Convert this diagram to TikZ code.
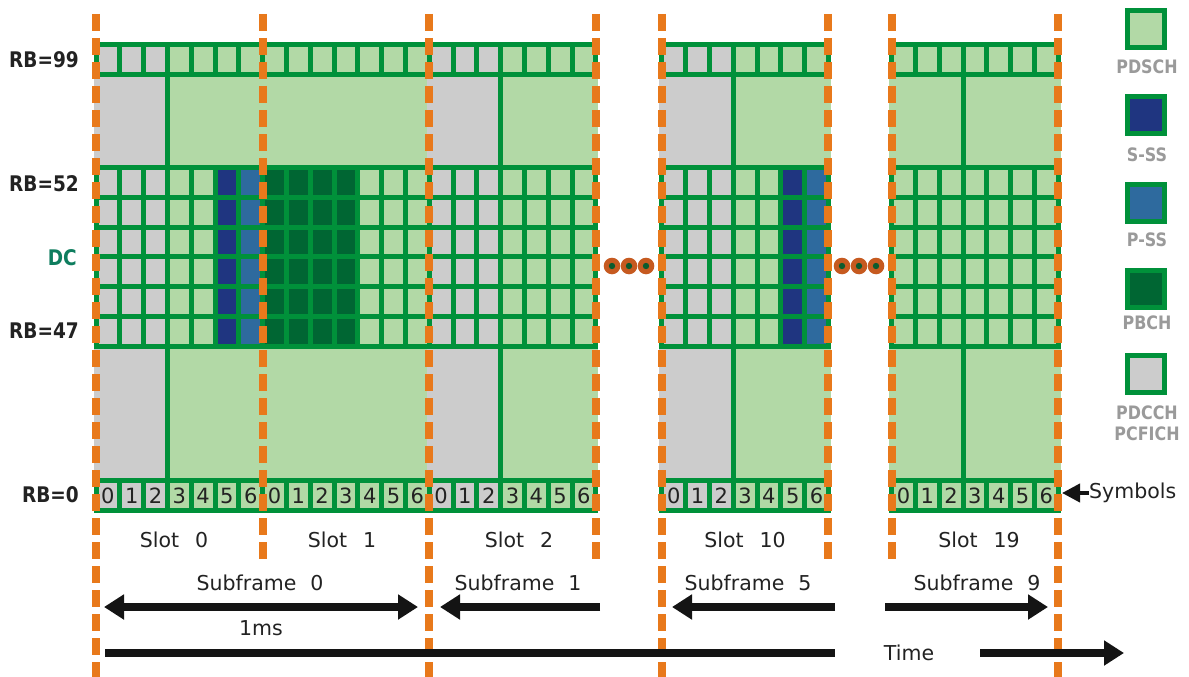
\documentclass[tikz,border=0pt]{standalone}
\usepackage{fontspec}
\setmainfont{DejaVu Sans}
\usetikzlibrary{arrows.meta}
\definecolor{gl}{HTML}{00913A}
\definecolor{lg}{HTML}{B2D9A6}
\definecolor{gy}{HTML}{CCCCCC}
\definecolor{ss}{HTML}{1F3580}
\definecolor{ps}{HTML}{2E6A9E}
\definecolor{pb}{HTML}{006633}
\definecolor{og}{HTML}{E8791B}
\definecolor{txt}{HTML}{222222}
\definecolor{legt}{HTML}{9A9A9A}
\definecolor{dct}{HTML}{0E7D5E}
\definecolor{dotc}{HTML}{C65A20}
\definecolor{dotin}{HTML}{0B5B2E}
\newcommand\cw{23.8}
\newcommand\sw{166.6}
\newcommand\slotblock[7]{%
  \foreach \c [count=\i from 0] in {#2} {\fill[\c] ({#1+\i*\cw-2.5},44) rectangle ({#1+(\i+1)*\cw+2.5},75);}
  \foreach \c [count=\i from 0] in {#3} {\fill[\c] ({#1+\i*\cw-2.5},167) rectangle ({#1+(\i+1)*\cw+2.5},347);}
  \foreach \c [count=\i from 0] in {#4} {\fill[\c] ({#1+\i*\cw-2.5},479) rectangle ({#1+(\i+1)*\cw+2.5},511);}
  \fill[#5] ({#1-2.5},74) rectangle ({#1+3*\cw},168);
  \fill[#6] ({#1+3*\cw},74) rectangle ({#1+\sw+2.5},168);
  \fill[#5] ({#1-2.5},346) rectangle ({#1+3*\cw},480);
  \fill[#6] ({#1+3*\cw},346) rectangle ({#1+\sw+2.5},480);
  \foreach \y in {45,74.5,167.5,197.25,227,256.75,286.5,316.25,346,480,510}
    {\draw[gline] ({#1-2.5},\y) -- ({#1+\sw+2.5},\y);}
  \foreach \k in {0,...,7} {
    \draw[gline] ({#1+\k*\cw},45) -- ({#1+\k*\cw},74.5);
    \draw[gline] ({#1+\k*\cw},167.5) -- ({#1+\k*\cw},346);
    \draw[gline] ({#1+\k*\cw},480) -- ({#1+\k*\cw},510);}
  \ifnum#7=1
    \draw[gline] ({#1+3*\cw},74.5) -- ({#1+3*\cw},167.5);
    \draw[gline] ({#1+3*\cw},346) -- ({#1+3*\cw},480);
  \fi
}
\newcommand\digitrow[2]{\foreach \d in {0,...,6} {\node[digit] (d#2\d) at ({#1+(\d+0.5)*\cw},495.5) {\d};}}
\newcommand\narrow[1]{\scalebox{0.86}[1]{#1}}
\begin{document}
\begin{tikzpicture}[x=1pt,y=-1pt,
  gline/.style={draw=gl,line width=5pt},
  oline/.style={draw=og,line width=8pt,dash pattern=on 17pt off 7pt},
  digit/.style={font=\fontsize{21}{23}\selectfont,text=txt,inner sep=0pt},
  rblab/.style={font=\bfseries\fontsize{21.5}{24}\selectfont,text=txt,anchor=east,inner sep=0pt},
  leglab/.style={font=\bfseries\fontsize{18.5}{21}\selectfont,text=legt,inner sep=0pt},
  legbox/.style={draw=gl,line width=5pt,minimum size=37pt,inner sep=0pt},
  lbl/.style={font=\fontsize{20.5}{23}\selectfont,text=txt,inner sep=0pt},
  bar/.style={draw=black!92,line width=8pt},
  head/.style={-{Triangle[length=20pt,width=24pt]}},
  dhead/.style={{Triangle[length=20pt,width=24pt]}-{Triangle[length=20pt,width=24pt]}}]
\useasboundingbox (0,0) rectangle (1189,677);
\fill[white] (0,0) rectangle (1189,677);
% slots
\slotblock{96}{gy,gy,gy,lg,lg,lg,lg}{gy,gy,gy,lg,lg,ss,ps}{gy,gy,gy,lg,lg,lg,lg}{gy}{lg}{1}
\slotblock{262.6}{lg,lg,lg,lg,lg,lg,lg}{pb,pb,pb,pb,lg,lg,lg}{lg,lg,lg,lg,lg,lg,lg}{lg}{lg}{0}
\slotblock{429.2}{gy,gy,gy,lg,lg,lg,lg}{gy,gy,gy,lg,lg,lg,lg}{gy,gy,gy,lg,lg,lg,lg}{gy}{lg}{1}
\slotblock{661.8}{gy,gy,gy,lg,lg,lg,lg}{gy,gy,gy,lg,lg,ss,ps}{gy,gy,gy,lg,lg,lg,lg}{gy}{lg}{1}
\slotblock{891.6}{lg,lg,lg,lg,lg,lg,lg}{lg,lg,lg,lg,lg,lg,lg}{lg,lg,lg,lg,lg,lg,lg}{lg}{lg}{1}
% orange slot boundaries
\foreach \x in {96,429.2,661.8,1058.2} {\draw[oline] (\x,14) -- (\x,677);}
\foreach \x in {262.6,595.8,828.4,891.6} {\draw[oline] (\x,14) -- (\x,564);}
% symbol digits
\digitrow{96}{a}
\digitrow{262.6}{b}
\digitrow{429.2}{c}
\digitrow{661.8}{d}
\digitrow{891.6}{e}
% ellipsis dots
\foreach \x in {612,629,646,842,859,876} {\fill[dotc] (\x,266) circle (8.3); \fill[dotin] (\x,266) circle (3.2);}
% left labels
\node[rblab] (rb99) at (79,60) {\narrow{RB=99}};
\node[rblab] (rb52) at (79,184) {\narrow{RB=52}};
\node[rblab,text=dct] (dc) at (77,258) {\narrow{DC}};
\node[rblab] (rb47) at (79,331) {\narrow{RB=47}};
\node[rblab] (rb0) at (79,495) {\narrow{RB=0}};
% legend
\node[legbox,fill=lg] (k1) at (1146,29) {};
\node[leglab] (t1) at (1147,67) {\narrow{PDSCH}};
\node[legbox,fill=ss] (k2) at (1146,115) {};
\node[leglab] (t2) at (1147,155) {\narrow{S-SS}};
\node[legbox,fill=ps] (k3) at (1146,202.5) {};
\node[leglab] (t3) at (1147,240) {\narrow{P-SS}};
\node[legbox,fill=pb] (k4) at (1146,288.5) {};
\node[leglab] (t4) at (1147,323) {\narrow{PBCH}};
\node[legbox,fill=gy] (k5) at (1146,373.5) {};
\node[leglab] (t5) at (1147,413) {\narrow{PDCCH}};
\node[leglab] (t6) at (1147,434) {\narrow{PCFICH}};
% symbols pointer
\node[lbl,anchor=west] (sym) at (1089,493) {Symbols};
\coordinate (symtip) at (1062,493);
\draw[draw=black!92,line width=4pt,-{Triangle[length=18pt,width=18pt]}] (sym.west) -- (symtip);
% slot and subframe labels
\node[lbl] (s0) at (174,540) {Slot\hspace{16pt}0};
\node[lbl] (s1) at (342,540) {Slot\hspace{16pt}1};
\node[lbl] (s2) at (519,540) {Slot\hspace{16pt}2};
\node[lbl] (s10) at (745,540) {Slot\hspace{16pt}10};
\node[lbl] (s19) at (979,540) {Slot\hspace{16pt}19};
\node[lbl] (f0) at (260,583) {Subframe\hspace{14pt}0};
\node[lbl] (f1) at (518,583) {Subframe\hspace{14pt}1};
\node[lbl] (f5) at (748,583) {Subframe\hspace{14pt}5};
\node[lbl] (f9) at (977,583) {Subframe\hspace{14pt}9};
\node[lbl] (ms) at (261,628) {1ms};
\node[lbl] (time) at (909,653) {Time};
% arrows
\coordinate (a0l) at (104,607); \coordinate (a0r) at (418,607);
\coordinate (a1t) at (600,607); \coordinate (a1h) at (440,607);
\coordinate (a5t) at (835,607); \coordinate (a5h) at (672,607);
\coordinate (a9t) at (885,607); \coordinate (a9h) at (1048,607);
\coordinate (tl) at (105,653); \coordinate (tr) at (835,653);
\coordinate (ta) at (980,653); \coordinate (tb) at (1124,653);
\draw[bar,dhead] (a0l) -- (a0r);
\draw[bar,head] (a1t) -- (a1h);
\draw[bar,head] (a5t) -- (a5h);
\draw[bar,head] (a9t) -- (a9h);
\draw[bar] (tl) -- (tr);
\draw[bar,head] (ta) -- (tb);
\end{tikzpicture}
\end{document}
